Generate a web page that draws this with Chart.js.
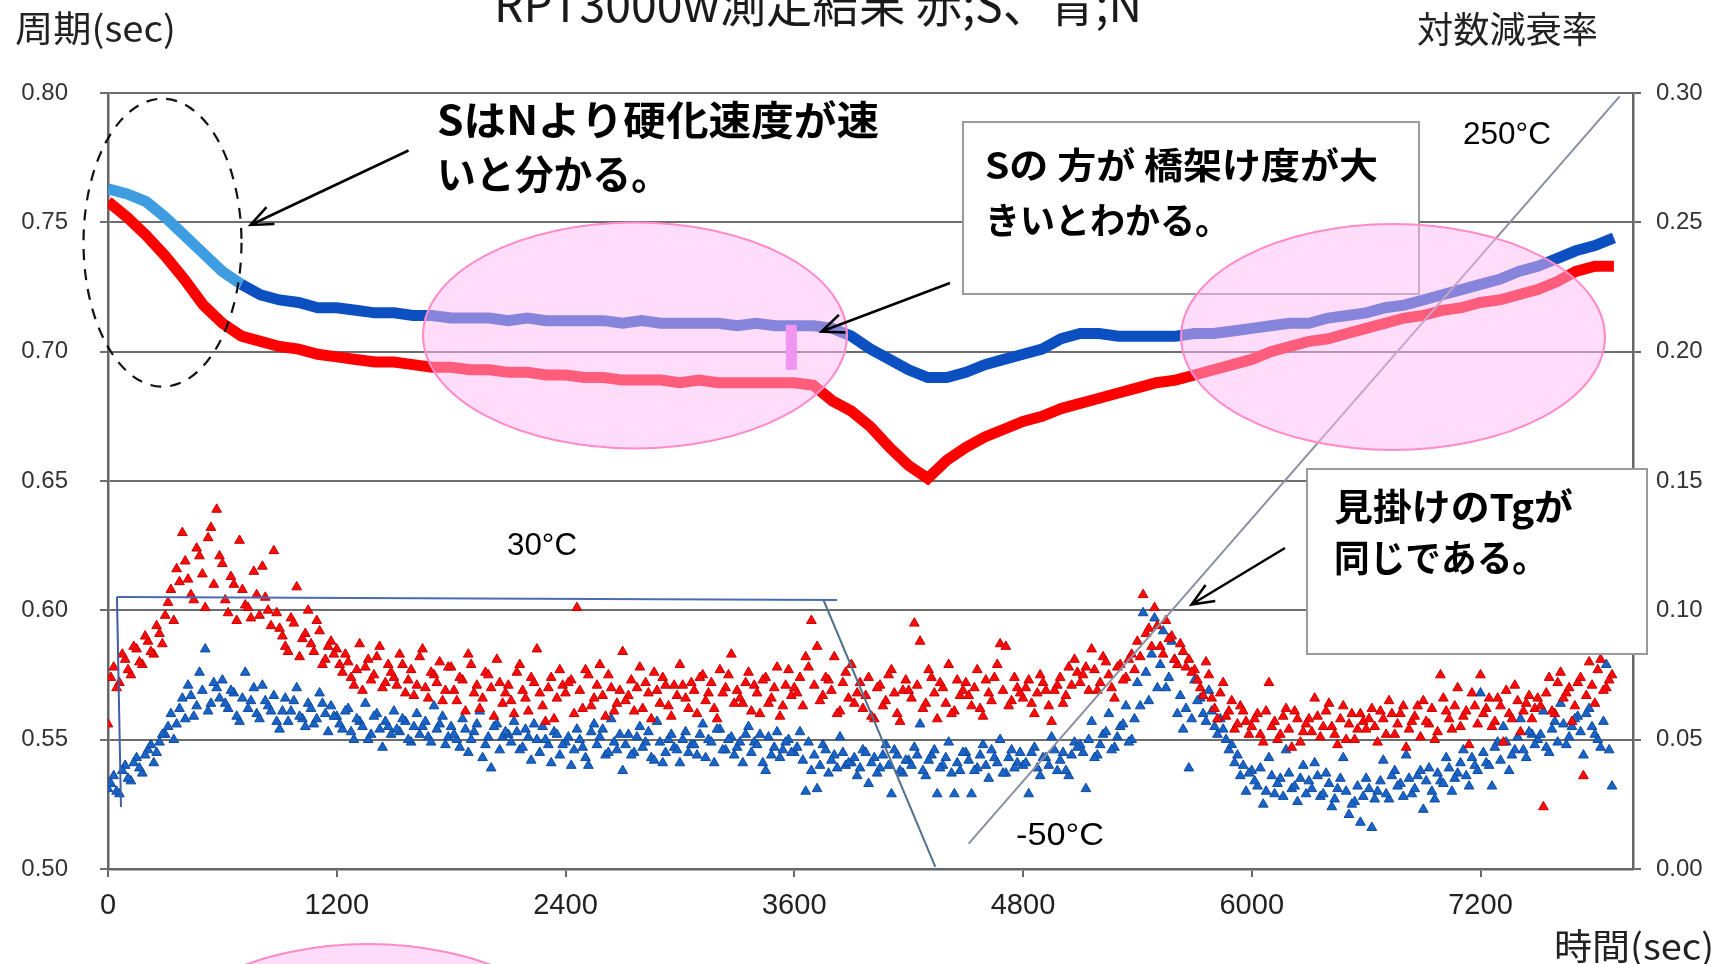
<!DOCTYPE html>
<html lang="ja">
<head>
<meta charset="utf-8">
<title>RPT3000w測定結果</title>
<script src="https://cdn.jsdelivr.net/npm/chart.js@4.4.1/dist/chart.umd.min.js"></script>
<style>
  html, body { margin: 0; padding: 0; background: #fff; }
  #wrap { width: 1722px; height: 964px; }
</style>
</head>
<body>
<div id="wrap"><canvas id="rptChart" width="1722" height="964"></canvas></div>
<script>
const periodStep = 100;
const periodN = [
  0.763, 0.761, 0.758, 0.752, 0.745, 0.738, 0.731, 0.726, 0.722, 0.720,
  0.719, 0.717, 0.717, 0.716, 0.715, 0.715, 0.714, 0.714, 0.713, 0.713,
  0.713, 0.712, 0.713, 0.712, 0.712, 0.712, 0.712, 0.711, 0.712, 0.711,
  0.711, 0.711, 0.711, 0.710, 0.711, 0.710, 0.710, 0.710, 0.709, 0.706,
  0.701, 0.697, 0.693, 0.690, 0.690, 0.692, 0.695, 0.697, 0.699, 0.701,
  0.705, 0.707, 0.707, 0.706, 0.706, 0.706, 0.706, 0.707, 0.707, 0.708,
  0.709, 0.710, 0.711, 0.711, 0.713, 0.714, 0.715, 0.717, 0.718, 0.720,
  0.722, 0.724, 0.726, 0.728, 0.731, 0.733, 0.736, 0.739, 0.741, 0.744
];
const periodS = [
  0.758, 0.752, 0.745, 0.737, 0.728, 0.718, 0.711, 0.706, 0.704, 0.702,
  0.701, 0.699, 0.698, 0.697, 0.696, 0.696, 0.695, 0.694, 0.694, 0.693,
  0.693, 0.692, 0.692, 0.691, 0.691, 0.690, 0.690, 0.689, 0.689, 0.689,
  0.688, 0.689, 0.688, 0.688, 0.688, 0.688, 0.688, 0.687, 0.681, 0.677,
  0.671, 0.663, 0.656, 0.651, 0.658, 0.663, 0.667, 0.670, 0.673, 0.675,
  0.678, 0.680, 0.682, 0.684, 0.686, 0.688, 0.689, 0.691, 0.693, 0.695,
  0.697, 0.700, 0.702, 0.704, 0.705, 0.707, 0.709, 0.711, 0.713, 0.714,
  0.716, 0.717, 0.719, 0.720, 0.722, 0.724, 0.727, 0.731, 0.733, 0.733
];

// 対数減衰率 — two interleaved readings of each cloud, every 30 s (offset 15 s)
const dampStep = 30;
const dampOffset = 15;
const dampS = [
  0.056, 0.078, 0.072, 0.081, 0.075, 0.085, 0.079, 0.088, 0.083, 0.091,
  0.098, 0.108, 0.116, 0.130, 0.112, 0.104, 0.121, 0.101, 0.132, 0.139,
  0.118, 0.099, 0.110, 0.127, 0.102, 0.097, 0.106, 0.117, 0.100, 0.123,
  0.093, 0.086, 0.097, 0.109, 0.089, 0.100, 0.084, 0.092, 0.081, 0.088,
  0.085, 0.076, 0.080, 0.071, 0.087, 0.078, 0.073, 0.082, 0.070, 0.079,
  0.074, 0.083, 0.068, 0.077, 0.071, 0.085, 0.066, 0.075, 0.080, 0.069,
  0.078, 0.065, 0.073, 0.083, 0.068, 0.062, 0.076, 0.070, 0.081, 0.064,
  0.071, 0.060, 0.079, 0.066, 0.074, 0.085, 0.063, 0.070, 0.058, 0.077,
  0.068, 0.073, 0.101, 0.062, 0.075, 0.066, 0.079, 0.059, 0.070, 0.064,
  0.084, 0.067, 0.061, 0.078, 0.072, 0.058, 0.069, 0.074, 0.063, 0.071,
  0.079, 0.066, 0.072, 0.060, 0.075, 0.068, 0.062, 0.077, 0.070, 0.083,
  0.069, 0.064, 0.076, 0.071, 0.060, 0.074, 0.066, 0.078, 0.063, 0.077,
  0.070, 0.074, 0.082, 0.096, 0.086, 0.067, 0.073, 0.082, 0.061, 0.076,
  0.079, 0.068, 0.062, 0.074, 0.058, 0.071, 0.065, 0.077, 0.060, 0.069,
  0.069, 0.095, 0.088, 0.064, 0.074, 0.058, 0.070, 0.079, 0.061, 0.067,
  0.072, 0.063, 0.077, 0.059, 0.068, 0.074, 0.087, 0.086, 0.065, 0.070,
  0.066, 0.073, 0.060, 0.075, 0.069, 0.057, 0.071, 0.064, 0.078, 0.081,
  0.072, 0.078, 0.085, 0.069, 0.082, 0.075, 0.066, 0.079, 0.074, 0.083,
  0.088, 0.106, 0.093, 0.101, 0.086, 0.096, 0.090, 0.079, 0.084, 0.081,
  0.077, 0.070, 0.080, 0.066, 0.058, 0.072, 0.061, 0.054, 0.063, 0.057,
  0.055, 0.060, 0.049, 0.072, 0.057, 0.052, 0.062, 0.047, 0.058, 0.053,
  0.058, 0.066, 0.051, 0.061, 0.055, 0.048, 0.063, 0.056, 0.050, 0.060,
  0.054, 0.062, 0.049, 0.058, 0.065, 0.052, 0.060, 0.047, 0.057, 0.063,
  0.065, 0.056, 0.050, 0.075, 0.061, 0.054, 0.070, 0.059, 0.048, 0.063,
  0.075, 0.062, 0.055, 0.066, 0.049, 0.060, 0.071, 0.053, 0.064, 0.058,
  0.066, 0.024, 0.074, 0.060, 0.076, 0.068, 0.057, 0.072, 0.036, 0.080,
  0.064, 0.081, 0.070, 0.075
];
const dampS2 = [
  0.074, 0.070, 0.083, 0.077, 0.086, 0.080, 0.090, 0.084, 0.094, 0.087,
  0.103, 0.096, 0.111, 0.119, 0.106, 0.124, 0.114, 0.128, 0.110, 0.121,
  0.104, 0.113, 0.096, 0.108, 0.101, 0.115, 0.098, 0.105, 0.094, 0.099,
  0.090, 0.084, 0.095, 0.082, 0.091, 0.087, 0.096, 0.079, 0.086, 0.083,
  0.079, 0.083, 0.074, 0.077, 0.069, 0.081, 0.075, 0.086, 0.072, 0.076,
  0.071, 0.079, 0.073, 0.067, 0.082, 0.070, 0.076, 0.072, 0.065, 0.078,
  0.069, 0.074, 0.061, 0.079, 0.071, 0.066, 0.075, 0.059, 0.072, 0.068,
  0.065, 0.076, 0.069, 0.061, 0.072, 0.068, 0.057, 0.074, 0.066, 0.071,
  0.072, 0.060, 0.069, 0.077, 0.063, 0.071, 0.067, 0.075, 0.061, 0.069,
  0.065, 0.073, 0.070, 0.062, 0.068, 0.076, 0.064, 0.071, 0.059, 0.067,
  0.071, 0.062, 0.069, 0.074, 0.065, 0.072, 0.058, 0.068, 0.075, 0.064,
  0.066, 0.072, 0.061, 0.068, 0.073, 0.064, 0.070, 0.059, 0.071, 0.067,
  0.068, 0.063, 0.078, 0.071, 0.065, 0.074, 0.069, 0.060, 0.072, 0.066,
  0.064, 0.072, 0.067, 0.059, 0.070, 0.063, 0.075, 0.068, 0.057, 0.073,
  0.066, 0.071, 0.062, 0.077, 0.068, 0.072, 0.064, 0.060, 0.073, 0.069,
  0.067, 0.070, 0.062, 0.073, 0.065, 0.079, 0.069, 0.063, 0.074, 0.068,
  0.070, 0.064, 0.068, 0.072, 0.063, 0.069, 0.074, 0.067, 0.071, 0.076,
  0.075, 0.069, 0.077, 0.072, 0.080, 0.070, 0.078, 0.073, 0.081, 0.077,
  0.082, 0.091, 0.086, 0.094, 0.083, 0.089, 0.081, 0.087, 0.078, 0.076,
  0.073, 0.067, 0.075, 0.062, 0.068, 0.059, 0.065, 0.056, 0.061, 0.052,
  0.058, 0.052, 0.061, 0.055, 0.050, 0.059, 0.054, 0.061, 0.049, 0.056,
  0.053, 0.059, 0.055, 0.064, 0.052, 0.058, 0.050, 0.060, 0.054, 0.057,
  0.058, 0.055, 0.061, 0.052, 0.060, 0.056, 0.063, 0.054, 0.059, 0.051,
  0.057, 0.062, 0.053, 0.066, 0.058, 0.063, 0.055, 0.061, 0.068, 0.056,
  0.060, 0.066, 0.057, 0.063, 0.069, 0.058, 0.065, 0.061, 0.067, 0.062,
  0.063, 0.068, 0.061, 0.072, 0.066, 0.070, 0.063, 0.074, 0.067, 0.071,
  0.077, 0.069, 0.073
];
const dampN = [
  0.031, 0.036, 0.029, 0.040, 0.034, 0.043, 0.037, 0.046, 0.041, 0.049,
  0.052, 0.060, 0.056, 0.066, 0.071, 0.059, 0.076, 0.085, 0.064, 0.070,
  0.073, 0.062, 0.068, 0.057, 0.076, 0.065, 0.060, 0.071, 0.063, 0.067,
  0.054, 0.066, 0.061, 0.070, 0.058, 0.064, 0.056, 0.068, 0.060, 0.063,
  0.059, 0.054, 0.062, 0.050, 0.057, 0.064, 0.052, 0.060, 0.047, 0.055,
  0.061, 0.053, 0.057, 0.049, 0.060, 0.055, 0.051, 0.063, 0.056, 0.048,
  0.055, 0.050, 0.058, 0.045, 0.053, 0.061, 0.048, 0.039, 0.056, 0.051,
  0.052, 0.057, 0.046, 0.054, 0.042, 0.050, 0.055, 0.048, 0.053, 0.044,
  0.049, 0.040, 0.054, 0.047, 0.040, 0.056, 0.051, 0.044, 0.058, 0.046,
  0.038, 0.052, 0.045, 0.055, 0.049, 0.043, 0.057, 0.041, 0.050, 0.047,
  0.041, 0.053, 0.048, 0.044, 0.056, 0.050, 0.041, 0.054, 0.046, 0.051,
  0.047, 0.041, 0.055, 0.049, 0.052, 0.038, 0.044, 0.053, 0.046, 0.050,
  0.045, 0.053, 0.030, 0.038, 0.031, 0.048, 0.037, 0.044, 0.051, 0.040,
  0.041, 0.036, 0.046, 0.033, 0.043, 0.039, 0.048, 0.029, 0.044, 0.037,
  0.042, 0.047, 0.056, 0.036, 0.044, 0.029, 0.040, 0.049, 0.029, 0.038,
  0.045, 0.029, 0.039, 0.048, 0.035, 0.043, 0.050, 0.037, 0.046, 0.041,
  0.040, 0.029, 0.047, 0.036, 0.043, 0.051, 0.038, 0.045, 0.036, 0.049,
  0.048, 0.031, 0.057, 0.044, 0.052, 0.060, 0.047, 0.055, 0.063, 0.050,
  0.072, 0.099, 0.065, 0.097, 0.079, 0.070, 0.088, 0.060, 0.054, 0.039,
  0.073, 0.066, 0.057, 0.061, 0.052, 0.054, 0.046, 0.041, 0.036, 0.030,
  0.038, 0.032, 0.025, 0.043, 0.029, 0.035, 0.046, 0.031, 0.026, 0.040,
  0.034, 0.041, 0.028, 0.037, 0.024, 0.031, 0.043, 0.021, 0.026, 0.018,
  0.035, 0.016, 0.030, 0.042, 0.027, 0.038, 0.033, 0.044, 0.029, 0.036,
  0.023, 0.039, 0.027, 0.034, 0.043, 0.030, 0.037, 0.046, 0.032, 0.040,
  0.068, 0.041, 0.032, 0.049, 0.055, 0.038, 0.046, 0.058, 0.043, 0.052,
  0.050, 0.061, 0.045, 0.057, 0.064, 0.048, 0.055, 0.059, 0.044, 0.062,
  0.052, 0.047, 0.079, 0.032
];
const dampN2 = [
  0.033, 0.030, 0.038, 0.035, 0.041, 0.039, 0.044, 0.048, 0.045, 0.052,
  0.055, 0.050, 0.062, 0.058, 0.067, 0.063, 0.069, 0.061, 0.072, 0.066,
  0.064, 0.069, 0.059, 0.066, 0.062, 0.070, 0.058, 0.065, 0.061, 0.057,
  0.061, 0.057, 0.065, 0.059, 0.055, 0.062, 0.058, 0.064, 0.053, 0.059,
  0.056, 0.061, 0.053, 0.058, 0.055, 0.050, 0.059, 0.054, 0.057, 0.052,
  0.054, 0.058, 0.050, 0.055, 0.052, 0.057, 0.049, 0.054, 0.059, 0.051,
  0.052, 0.047, 0.054, 0.050, 0.056, 0.043, 0.051, 0.055, 0.046, 0.053,
  0.049, 0.053, 0.047, 0.051, 0.056, 0.045, 0.050, 0.041, 0.052, 0.048,
  0.051, 0.046, 0.050, 0.043, 0.053, 0.048, 0.054, 0.045, 0.049, 0.052,
  0.048, 0.044, 0.051, 0.047, 0.053, 0.042, 0.049, 0.045, 0.052, 0.046,
  0.050, 0.045, 0.048, 0.052, 0.043, 0.049, 0.054, 0.046, 0.050, 0.044,
  0.049, 0.052, 0.045, 0.048, 0.041, 0.051, 0.047, 0.043, 0.049, 0.045,
  0.047, 0.042, 0.049, 0.044, 0.040, 0.046, 0.042, 0.039, 0.045, 0.041,
  0.043, 0.039, 0.045, 0.041, 0.037, 0.044, 0.040, 0.046, 0.038, 0.042,
  0.040, 0.044, 0.038, 0.042, 0.046, 0.039, 0.043, 0.037, 0.041, 0.045,
  0.042, 0.038, 0.044, 0.040, 0.046, 0.041, 0.037, 0.043, 0.039, 0.045,
  0.041, 0.045, 0.039, 0.043, 0.040, 0.046, 0.042, 0.038, 0.044, 0.047,
  0.045, 0.050, 0.043, 0.048, 0.053, 0.046, 0.051, 0.056, 0.049, 0.058,
  0.063, 0.076, 0.083, 0.070, 0.092, 0.074, 0.081, 0.067, 0.062, 0.058,
  0.065, 0.060, 0.069, 0.055, 0.058, 0.050, 0.048, 0.044, 0.040, 0.037,
  0.034, 0.039, 0.030, 0.036, 0.033, 0.028, 0.037, 0.032, 0.035, 0.029,
  0.031, 0.036, 0.029, 0.033, 0.027, 0.035, 0.030, 0.025, 0.032, 0.028,
  0.031, 0.027, 0.034, 0.029, 0.036, 0.032, 0.028, 0.035, 0.031, 0.038,
  0.034, 0.030, 0.037, 0.033, 0.039, 0.035, 0.041, 0.036, 0.043, 0.038,
  0.045, 0.040, 0.047, 0.042, 0.049, 0.044, 0.051, 0.046, 0.053, 0.048,
  0.052, 0.047, 0.054, 0.049, 0.056, 0.051, 0.058, 0.053, 0.060, 0.055,
  0.050, 0.057, 0.046
];

// temperature program drawn against the period axis (null = break)
const tempTimes  = [68, 47, 3825, 3825, 3754, 4340, 4340, 4515, 7930];
const tempLevels = [0.524, 0.6052, 0.6040, null, 0.6039, 0.5008, null, 0.5098, 0.7987];

// small magenta mark inside the left pink ellipse
const markTime = 3582;
const markRange = [0.6930, 0.7104];

const timeTicks = [0, 1200, 2400, 3600, 4800, 6000, 7200];
const periodTicks = [0.50, 0.55, 0.60, 0.65, 0.70, 0.75, 0.80];
const dampTicks = [0.00, 0.05, 0.10, 0.15, 0.20, 0.25, 0.30];

const periodTimes = periodN.map((_, i) => i * periodStep);
const dampTimes = dampS.map((_, i) => i * dampStep);
const dampTimes2 = dampS2.map((_, i) => dampOffset + i * dampStep);
const toPoints = (times, values) => values.map((v, i) => ({ x: times[i], y: v }));

const CJK = '"Noto Sans CJK JP", sans-serif';
const LAT = '"Liberation Sans", Arial, sans-serif';

// draws text squeezed/stretched to a measured width
function fitText(ctx, text, left, midY, width, font) {
  ctx.font = font;
  const w = ctx.measureText(text).width;
  ctx.save();
  ctx.translate(left, midY);
  ctx.scale(width / w, 1);
  ctx.textAlign = 'left';
  ctx.textBaseline = 'middle';
  ctx.fillText(text, 0, 0);
  ctx.restore();
}

function arrow(ctx, x1, y1, x2, y2) {
  const a = Math.atan2(y2 - y1, x2 - x1), len = 24, spread = 0.4;
  ctx.beginPath();
  ctx.moveTo(x1, y1);
  ctx.lineTo(x2, y2);
  ctx.moveTo(x2 - len * Math.cos(a - spread), y2 - len * Math.sin(a - spread));
  ctx.lineTo(x2, y2);
  ctx.lineTo(x2 - len * Math.cos(a + spread), y2 - len * Math.sin(a + spread));
  ctx.stroke();
}

const overlay = {
  id: 'overlay',
  afterDraw(chart) {
    const { ctx, scales } = chart;
    ctx.save();

    // magenta mark
    const mx = scales.x.getPixelForValue(markTime);
    const mTop = scales.yP.getPixelForValue(markRange[1]);
    const mBot = scales.yP.getPixelForValue(markRange[0]);
    ctx.fillStyle = '#e070ea';
    ctx.fillRect(mx - 5, mTop, 11, mBot - mTop);

    // white note boxes
    ctx.fillStyle = '#fff';
    ctx.strokeStyle = '#9a9a9a';
    ctx.lineWidth = 2;
    [[963, 122, 456, 172], [1307, 469, 340, 185]].forEach(([bx, by, bw, bh]) => {
      ctx.fillRect(bx, by, bw, bh);
      ctx.strokeRect(bx, by, bw, bh);
    });

    // pink highlight ellipses
    ctx.fillStyle = 'rgba(255, 186, 246, 0.5)';
    ctx.strokeStyle = '#ff8cc8';
    ctx.lineWidth = 2;
    [[635, 335.5], [1393, 337], [368, 1057]].forEach(([cx, cy]) => {
      ctx.beginPath();
      ctx.ellipse(cx, cy, 212, 113, 0, 0, Math.PI * 2);
      ctx.fill();
      ctx.stroke();
    });

    // dashed ellipse round the start
    ctx.strokeStyle = '#111';
    ctx.lineWidth = 2.2;
    ctx.setLineDash([11, 9]);
    ctx.beginPath();
    ctx.ellipse(162.5, 242.7, 79, 144, 0, 0, Math.PI * 2);
    ctx.stroke();
    ctx.setLineDash([]);

    // notes
    ctx.fillStyle = '#000';
    fitText(ctx, 'SはNより硬化速度が速', 437, 120, 442, 'bold 40px ' + CJK);
    fitText(ctx, 'いと分かる。', 437, 174, 233, 'bold 40px ' + CJK);
    fitText(ctx, 'Sの 方が 橋架け度が大', 985, 165, 393, 'bold 36px ' + CJK);
    fitText(ctx, 'きいとわかる。', 985, 220, 245, 'bold 36px ' + CJK);
    fitText(ctx, '見掛けのTgが', 1334, 507, 239, 'bold 37px ' + CJK);
    fitText(ctx, '同じである。', 1334, 558, 214, 'bold 37px ' + CJK);

    // arrows
    ctx.strokeStyle = '#000';
    ctx.lineWidth = 2.5;
    arrow(ctx, 408.5, 150.5, 250.5, 225);
    arrow(ctx, 950, 283, 821.5, 331.5);
    arrow(ctx, 1285, 548, 1191.5, 604.5);

    // temperature labels
    fitText(ctx, '30°C', 507, 546, 70, '32px ' + LAT);
    fitText(ctx, '250°C', 1463, 135, 88, '32px ' + LAT);
    fitText(ctx, '-50°C', 1016, 836, 88, '32px ' + LAT);

    // titles
    ctx.fillStyle = '#1a1a1a';
    ctx.font = '48px ' + CJK;
    const title = 'RPT3000w測定結果 赤;S、青;N';
    const tw = ctx.measureText(title).width;
    ctx.save();
    ctx.translate(494, 22);
    ctx.scale(648 / tw, 1);
    ctx.textAlign = 'left';
    ctx.textBaseline = 'alphabetic';
    ctx.fillText(title, 0, 0);
    ctx.restore();

    ctx.fillStyle = '#222';
    fitText(ctx, '周期(sec)', 15, 28, 161, '36px ' + CJK);
    fitText(ctx, '対数減衰率', 1417, 29, 181, '36px ' + CJK);
    fitText(ctx, '時間(sec)', 1554, 946, 160, '36px ' + CJK);

    ctx.restore();
  }
};

const tempColors = { 0: '#3f5fa6', 1: '#4a6ab4', 4: '#52708c', 7: '#8a8fa0' };

new Chart(document.getElementById('rptChart'), {
  type: 'scatter',
  data: {
    datasets: [
      {
        type: 'line',
        label: '温度',
        data: toPoints(tempTimes, tempLevels),
        yAxisID: 'yP',
        borderWidth: 2,
        pointRadius: 0,
        spanGaps: false,
        segment: { borderColor: c => tempColors[c.p0DataIndex] || '#8a8fa0' },
        order: 0
      },
      {
        type: 'line',
        label: '周期 N',
        data: toPoints(periodTimes, periodN),
        yAxisID: 'yP',
        borderWidth: 11,
        pointRadius: 0,
        borderColor: '#0c4fc0',
        segment: { borderColor: c => c.p1.parsed.x <= 700 ? '#3d9de0' : '#0c4fc0' },
        order: 1
      },
      {
        type: 'line',
        label: '周期 S',
        data: toPoints(periodTimes, periodS),
        yAxisID: 'yP',
        borderWidth: 11,
        pointRadius: 0,
        borderColor: '#ff0000',
        order: 2
      },
      {
        label: '対数減衰率 S',
        data: toPoints(dampTimes, dampS).concat(toPoints(dampTimes2, dampS2)),
        yAxisID: 'yD',
        pointStyle: 'triangle',
        pointRadius: 5.6,
        backgroundColor: '#ff0a0a',
        borderColor: '#c40000',
        borderWidth: 1,
        order: 3
      },
      {
        label: '対数減衰率 N',
        data: toPoints(dampTimes, dampN).concat(toPoints(dampTimes2, dampN2)),
        yAxisID: 'yD',
        pointStyle: 'triangle',
        pointRadius: 5.6,
        backgroundColor: '#1a63c9',
        borderColor: '#0d4a9c',
        borderWidth: 1,
        order: 4
      }
    ]
  },
  options: {
    responsive: false,
    devicePixelRatio: 1,
    animation: false,
    layout: { padding: { top: 93, left: 0, right: 0, bottom: 0 } },
    plugins: {
      legend: { display: false },
      tooltip: { enabled: false },
      title: { display: false }
    },
    scales: {
      x: {
        type: 'linear',
        min: 0,
        max: 8000,
        afterBuildTicks: s => { s.ticks = timeTicks.map(v => ({ value: v })); },
        afterFit: s => { s.height = 95; },
        ticks: {
          color: '#222',
          font: { family: LAT, size: 29 },
          padding: 12,
          maxRotation: 0,
          autoSkip: false,
          callback: v => String(v)
        },
        grid: { drawOnChartArea: false, drawTicks: true, tickLength: 8, color: '#666', lineWidth: 2 },
        border: { color: '#666', width: 2.5 }
      },
      yP: {
        type: 'linear',
        position: 'left',
        min: 0.5,
        max: 0.8,
        afterBuildTicks: s => { s.ticks = periodTicks.map(v => ({ value: v })); },
        afterFit: s => { s.width = 108; },
        ticks: {
          color: '#333',
          font: { family: LAT, size: 24 },
          padding: 32,
          callback: v => v.toFixed(2)
        },
        grid: { color: '#6d6d6d', lineWidth: 2, tickLength: 8 },
        border: { color: '#666', width: 2.5 }
      },
      yD: {
        type: 'linear',
        position: 'right',
        min: 0,
        max: 0.3,
        afterBuildTicks: s => { s.ticks = dampTicks.map(v => ({ value: v })); },
        afterFit: s => { s.width = 89; },
        ticks: {
          color: '#333',
          font: { family: LAT, size: 24 },
          padding: 15,
          callback: v => v.toFixed(2)
        },
        grid: { drawOnChartArea: false, tickLength: 8, color: '#666', lineWidth: 2 },
        border: { color: '#666', width: 2.5 }
      }
    }
  },
  plugins: [overlay]
});
</script>
</body>
</html>
